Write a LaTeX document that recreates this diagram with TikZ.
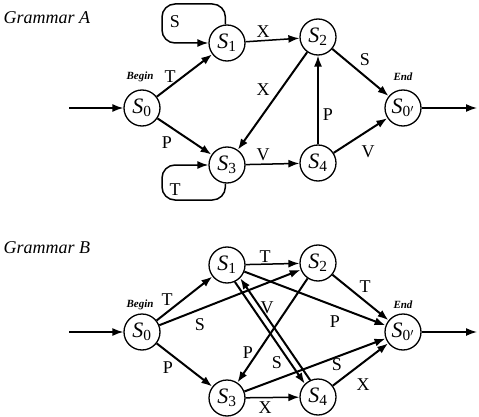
\documentclass[tikz,border=0pt]{standalone}
\usepackage{fontspec}
\setmainfont{Liberation Serif}
\usetikzlibrary{arrows.meta}

\newcommand{\st}[1]{\textit{S}$_{\mathrm{#1}}$}

\tikzset{
    state/.style={circle, draw, line width=1.3pt, minimum size=36pt, inner sep=0pt,
        fill=white, font=\fontsize{22}{22}\selectfont},
    trans/.style={-{Latex[length=11pt,width=8pt]}, line width=2pt},
    thin trans/.style={trans, line width=1.5pt},
    lbl/.style={font=\fontsize{18}{18}\selectfont},
    tag/.style={font=\bfseries\itshape\fontsize{11}{11}\selectfont},
    title/.style={anchor=west, font=\itshape\fontsize{18}{18}\selectfont}
}

\begin{document}
\begin{tikzpicture}[x=1pt,y=-1pt]
\useasboundingbox (0,0) rectangle (479,417);

% Grammar A
\node[title] (titA) at (0,18) {Grammar A};

\node[state] (A0) at (142,108) {\st{0}};
\node[state] (A1) at (227,43) {\st{1}};
\node[state] (A2) at (318,37) {\st{2}};
\node[state] (A3) at (227,165) {\st{3}};
\node[state] (A4) at (318,163) {\st{4}};
\node[state] (Af) at (403,108) {\st{0'}};

\node[tag] (begA) at (140,77) {Begin};
\node[tag] (endA) at (403,77) {End};

\coordinate (inA) at (69,108);
\coordinate (outA) at (477,108);
\draw[thin trans] (inA) -- (A0);
\draw[thin trans] (Af) -- (outA);

\draw[trans] (A0) -- (A1);
\draw[trans] (A0) -- (A3);
\draw[thin trans] (A1) -- (A2);
\draw[trans] (A2) -- (A3);
\draw[trans] (A2) -- (Af);
\draw[thin trans] (A3) -- (A4);
\draw[thin trans] (A4) -- (A2);
\draw[trans] (A4) -- (Af);
\draw[thin trans, rounded corners=13pt] (A1.95) |- (162,4) |- (A1.west);
\draw[thin trans, rounded corners=13pt] (A3.-95) |- (162,200) |- (A3.west);

\node[lbl] (lA01) at (170,77) {T};
\node[lbl] (lA03) at (167,143) {P};
\node[lbl] (lA11) at (175,22) {S};
\node[lbl] (lA12) at (263,32) {X};
\node[lbl] (lA23) at (263,90) {X};
\node[lbl] (lA2f) at (365,60) {S};
\node[lbl] (lA33) at (175,190) {T};
\node[lbl] (lA34) at (263,155) {V};
\node[lbl] (lA42) at (328,115) {P};
\node[lbl] (lA4f) at (368,152) {V};

% Grammar B
\node[title] (titB) at (0,248) {Grammar B};

\node[state] (B0) at (142,332) {\st{0}};
\node[state] (B1) at (227,265) {\st{1}};
\node[state] (B2) at (318,263) {\st{2}};
\node[state] (B3) at (227,398) {\st{3}};
\node[state] (B4) at (318,397) {\st{4}};
\node[state] (Bf) at (403,332) {\st{0'}};

\node[tag] (begB) at (140,305) {Begin};
\node[tag] (endB) at (403,305) {End};

\coordinate (inB) at (69,332);
\coordinate (outB) at (477,332);
\draw[thin trans] (inB) -- (B0);
\draw[thin trans] (Bf) -- (outB);

\draw[trans] (B0) -- (B1);
\draw[trans] (B0) -- (B2);
\draw[trans] (B0) -- (B3);
\draw[thin trans] (B1) -- (B2);
\draw[trans] (B1) -- (Bf);
\draw[trans] (B1.-65) -- (B4.135);
\draw[trans] (B4.115) -- (B1.-45);
\draw[trans] (B2) -- (B3);
\draw[trans] (B2) -- (Bf);
\draw[thin trans] (B3) -- (B4);
\draw[trans] (B3) -- (Bf);
\draw[trans] (B4) -- (Bf);

\node[lbl] (lB01) at (167,300) {T};
\node[lbl] (lB02) at (200,325) {S};
\node[lbl] (lB03) at (168,368) {P};
\node[lbl] (lB12) at (265,257) {T};
\node[lbl] (lB41) at (267,308) {V};
\node[lbl] (lB1f) at (335,322) {P};
\node[lbl] (lB23) at (248,353) {P};
\node[lbl] (lB14) at (277,363) {S};
\node[lbl] (lB2f) at (365,287) {T};
\node[lbl] (lB3f) at (337,365) {S};
\node[lbl] (lB4f) at (363,385) {X};
\node[lbl] (lB34) at (265,408) {X};
\end{tikzpicture}
\end{document}
